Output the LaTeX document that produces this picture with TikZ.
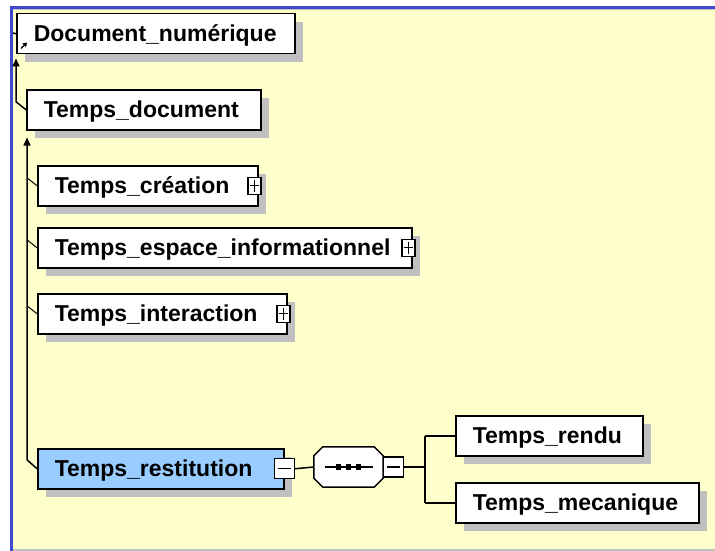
\documentclass[tikz,border=0pt]{standalone}
\usepackage{fontspec}
\setmainfont{Liberation Sans}
\usetikzlibrary{arrows.meta,shadows}
\definecolor{bgyellow}{HTML}{FFFFCC}
\definecolor{frameblue}{HTML}{4048CC}
\definecolor{shadowgray}{HTML}{C0C0C0}
\definecolor{selblue}{HTML}{99CCFF}
\begin{document}
\begin{tikzpicture}[x=1pt,y=-1pt,
  elem/.style={draw=black, line width=1.5pt, fill=white, anchor=north west,
    minimum height=40pt, inner ysep=0pt, inner xsep=17pt, align=left,
    text height=16pt, text depth=0pt, font=\fontsize{23}{27}\selectfont\bfseries,
    general shadow={fill=shadowgray, shadow xshift=8pt, shadow yshift=-8pt}},
  expbox/.style={draw=black, line width=1.2pt, fill=white, minimum width=13pt,
    minimum height=17pt, inner sep=0pt},
  conn/.style={draw=black, line width=1.5pt},
  tick/.style={draw=black, line width=1pt},
  tip/.style={-{Triangle[width=7pt,length=8pt]}}
]
\useasboundingbox (0,0) rectangle (715,551);
% background
\fill[white] (0,0) rectangle (715,551);
\fill[bgyellow] (13,9) rectangle (715,549);
\fill[shadowgray] (13,9) rectangle (715,10.5);
\fill[shadowgray] (13,549) rectangle (715,551);
\fill[frameblue] (10,6) rectangle (715,9);
\fill[frameblue] (10,6) rectangle (13,551);

% elements
\node[elem, text width=244pt] (dn) at (16,13) {Document\_numérique};
\node[elem, text width=200pt] (td) at (26,89) {Temps\_document};
\node[elem, text width=186pt] (tc) at (37,165) {Temps\_création};
\node[elem, text width=340pt] (te) at (37,227) {Temps\_espace\_informationnel};
\node[elem, text width=215pt] (ti) at (37,293) {Temps\_interaction};
\node[elem, fill=selblue, text width=212pt] (tr) at (37,448) {Temps\_restitution};
\node[elem, text width=153pt] (trd) at (455,415) {Temps\_rendu};
\node[elem, text width=209pt] (tm) at (455,482) {Temps\_mecanique};

% reference icon
\draw[line width=1.3pt, -{Triangle[width=5pt,length=4pt]}] ([shift={(5,-6)}]dn.south west) -- ++(6,-6);

% expanders
\foreach \n in {tc,te,ti}{
  \node[expbox] (\n x) at ([xshift=-4pt]\n.east) {};
  \draw[line width=1.2pt] ([xshift=2.5pt]\n x.west) -- ([xshift=-2.5pt]\n x.east);
  \draw[line width=1.2pt] ([yshift=-3pt]\n x.north) -- ([yshift=3pt]\n x.south);
}
\node[expbox, minimum width=20pt, minimum height=20pt] (trx) at (tr.east) {};
\draw[line width=1.2pt] ([xshift=4pt]trx.west) -- ([xshift=-4pt]trx.east);

% sequence compositor
\node[minimum width=69pt, minimum height=40pt, inner sep=0pt] (seq) at (348.5,467) {};
\fill[shadowgray, shift={(8,8)}] ([xshift=9pt]seq.north west) -- ([xshift=-9pt]seq.north east)
  -- ([yshift=-9pt]seq.north east) -- ([yshift=9pt]seq.south east)
  -- ([xshift=-9pt]seq.south east) -- ([xshift=9pt]seq.south west)
  -- ([yshift=9pt]seq.south west) -- ([yshift=-9pt]seq.north west) -- cycle;
\draw[line width=1.5pt, fill=white] ([xshift=9pt]seq.north west) -- ([xshift=-9pt]seq.north east)
  -- ([yshift=-9pt]seq.north east) -- ([yshift=9pt]seq.south east)
  -- ([xshift=-9pt]seq.south east) -- ([xshift=9pt]seq.south west)
  -- ([yshift=9pt]seq.south west) -- ([yshift=-9pt]seq.north west) -- cycle;
\draw[line width=1.3pt] ([xshift=-24pt]seq.center) -- ([xshift=24pt]seq.center);
\foreach \dx in {-10,0,10}
  \fill ([xshift=\dx pt]seq.center) +(-2.7pt,-2.7pt) rectangle +(2.7pt,2.7pt);
\node[expbox, minimum width=20pt, minimum height=20pt, anchor=west] (seqx) at (seq.east) {};
\draw[line width=1.2pt] ([xshift=4pt]seqx.west) -- ([xshift=-4pt]seqx.east);

% connectors
\coordinate (dnin) at (13,33);
\draw[conn] (dnin) -- (dn.west);
\draw[conn, tip] (td.west) -- ++(-10,-8) -- ([yshift=-4pt]dn.south west);
\draw[conn, tip] (tr.west) -- ++(-10,-9) -- ([xshift=1pt,yshift=-7pt]td.south west);
\foreach \n in {tc,te,ti}
  \draw[tick] (\n.west) -- ++(-10,-8);
\draw[conn] (trx.east) -- (seq.west);
\coordinate (br) at (425,467);
\draw[conn] (seqx.east) -- (br);
\draw[conn] (br |- trd.west) -- (br |- tm.west);
\draw[conn] (br |- trd.west) -- (trd.west);
\draw[conn] (br |- tm.west) -- (tm.west);
\end{tikzpicture}
\end{document}
